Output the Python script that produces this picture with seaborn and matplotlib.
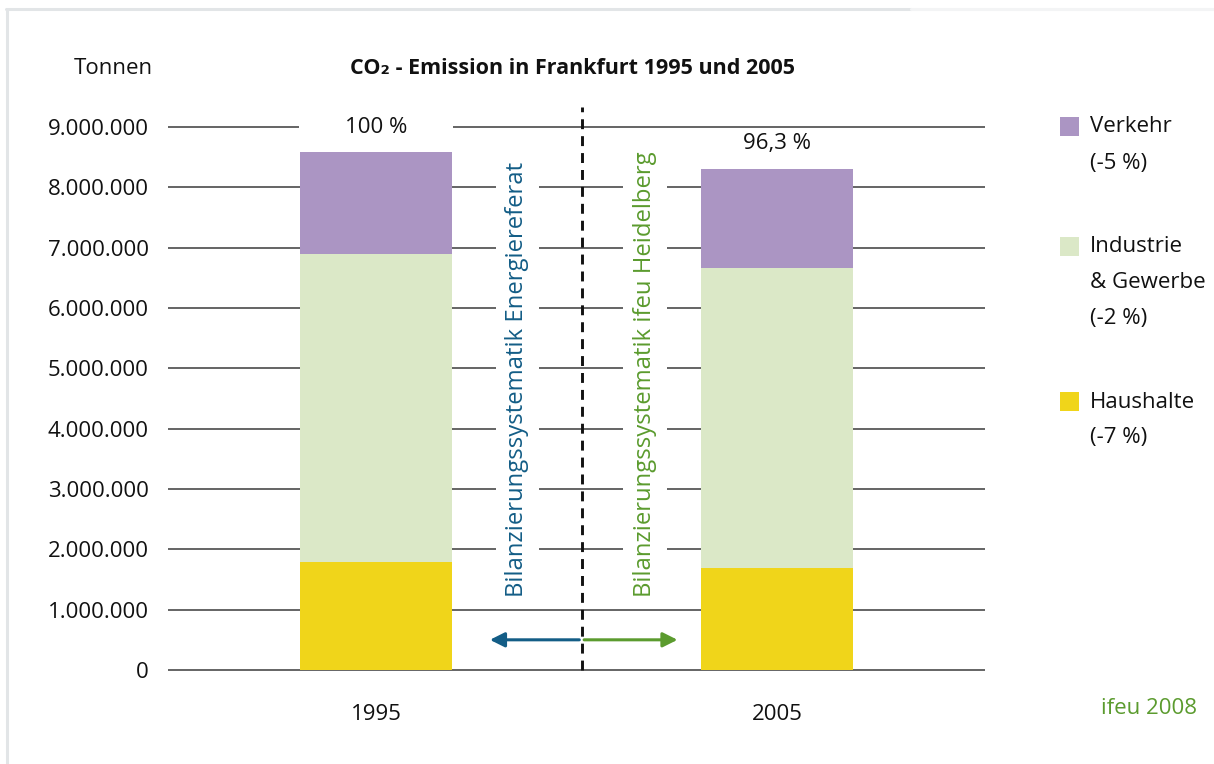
import pandas as pd
import seaborn as sns
import matplotlib.pyplot as plt
from matplotlib.patches import Rectangle
from matplotlib.lines import Line2D

# Data (tonnes CO2)
years = ['1995', '2005']
haushalte = [1790000, 1690000]
industrie = [5100000, 4970000]
verkehr = [1700000, 1640000]
share_labels = ['100 %', '96,3 %']

legend_names = ['Verkehr', 'Industrie\n& Gewerbe', 'Haushalte']
legend_changes = ['(-5 %)', '(-2 %)', '(-7 %)']
y_ticks = [0, 1000000, 2000000, 3000000, 4000000, 5000000,
           6000000, 7000000, 8000000, 9000000]

purple = '#ab95c3'
light_green = '#dbe8c7'
yellow = '#f0d51a'
blue = '#135d86'
green = '#5b9b2e'

sns.set_style('white')
plt.rcParams['font.family'] = ['Open Sans', 'DejaVu Sans']

df = pd.DataFrame({'Jahr': years, 'Haushalte': haushalte,
                   'Industrie': industrie, 'Verkehr': verkehr})
df['h_top'] = df['Haushalte']
df['i_top'] = df['Haushalte'] + df['Industrie']
df['v_top'] = df['i_top'] + df['Verkehr']

fig = plt.figure(figsize=(12.14, 7.64), dpi=100)
ax = fig.add_axes([168 / 1214, 1 - 673 / 764, 817 / 1214, 549 / 764])

# stacked bars: draw cumulative totals from top layer to bottom layer
bar_w = 0.379
for col, c in [('v_top', purple), ('i_top', light_green), ('h_top', yellow)]:
    sns.barplot(data=df, x='Jahr', y=col, color=c, saturation=1,
                width=bar_w, errorbar=None, ax=ax, zorder=1, linewidth=0)

ax.set_xlim(-0.519, 1.519)
ax.set_ylim(-50000, 9050000)
ax.set_axisbelow(True)
ax.yaxis.grid(True, color='#3a3a3a', lw=1.1)
ax.xaxis.grid(False)
for s in ax.spines.values():
    s.set_visible(False)
ax.set_yticks(y_ticks)
ax.set_yticklabels([f'{v:,.0f}'.replace(',', '.') for v in y_ticks])
ax.tick_params(axis='y', length=0, pad=14, labelsize=16, labelcolor='#111111')
ax.tick_params(axis='x', length=0, pad=22, labelsize=16, labelcolor='#111111')
ax.set_xlabel('')
ax.set_ylabel('')

# share labels above the bars
totals = df['v_top'].tolist()
ax.text(0, 9000000, share_labels[0], ha='center', va='center', fontsize=16,
        color='#111111', zorder=0.8,
        bbox=dict(boxstyle='square,pad=2.05', fc='white', ec='none'))
ax.annotate(share_labels[1], xy=(1, totals[1]), xytext=(0, 11),
            textcoords='offset points', ha='center', va='bottom',
            fontsize=16, color='#111111')

# separator between the two accounting systems
sep_x = 0.513
ax.plot([sep_x, sep_x], [0, 9330000], color='#111111', lw=2.1,
        dashes=(3.4, 2.4), clip_on=False, zorder=4)
ax.text(0.352, 1210000, 'Bilanzierungssystematik Energiereferat',
        rotation=90, ha='center', va='bottom', fontsize=17.2, color=blue,
        zorder=3, bbox=dict(boxstyle='square,pad=0.4', fc='white', ec='none'))
ax.text(0.671, 1210000, 'Bilanzierungssystematik ifeu Heidelberg',
        rotation=90, ha='center', va='bottom', fontsize=17.2, color=green,
        zorder=3, bbox=dict(boxstyle='square,pad=0.4', fc='white', ec='none'))
ax.annotate('', xy=(0.284, 500000), xytext=(sep_x - 0.006, 500000),
            arrowprops=dict(arrowstyle='-|>', color=blue, lw=2.2,
                            mutation_scale=22, shrinkA=0, shrinkB=0))
ax.annotate('', xy=(0.752, 500000), xytext=(sep_x + 0.006, 500000),
            arrowprops=dict(arrowstyle='-|>', color=green, lw=2.2,
                            mutation_scale=22, shrinkA=0, shrinkB=0))

# titles
fig.text(153 / 1214, 1 - 68 / 764, 'Tonnen', ha='right', va='center',
         fontsize=16, color='#111111')
fig.text(573 / 1214, 1 - 68 / 764, 'CO₂ - Emission in Frankfurt 1995 und 2005',
         ha='center', va='center', fontsize=15.5, fontweight='bold',
         color='#111111')

# legend drawn by hand
legend_colors = [purple, light_green, yellow]
legend_y = [127, 247, 402]
for name, chg, c, y in zip(legend_names, legend_changes, legend_colors, legend_y):
    fig.patches.append(Rectangle((1060 / 1214, 1 - (y + 9) / 764), 19 / 1214, 19 / 764,
                                 transform=fig.transFigure, fc=c, ec='none'))
    lines = name.split('\n') + [chg]
    for i, ln in enumerate(lines):
        fig.text(1090 / 1214, 1 - (y + i * 36) / 764, ln, ha='left', va='center',
                 fontsize=16, color='#111111')

fig.text(1197 / 1214, 1 - 708 / 764, 'ifeu 2008', ha='right', va='center',
         fontsize=16, color=green)

# light frame at top and left (top edge fades out towards the right)
fig.add_artist(Line2D([6 / 1214, 0.75], [1 - 9 / 764, 1 - 9 / 764],
                      transform=fig.transFigure, color='#e2e5e7', lw=2.2))
fig.add_artist(Line2D([0.75, 1], [1 - 9 / 764, 1 - 9 / 764],
                      transform=fig.transFigure, color='#f3f4f5', lw=2.2))
fig.add_artist(Line2D([7 / 1214, 7 / 1214], [0, 1 - 9 / 764],
                      transform=fig.transFigure, color='#e2e5e7', lw=2.2))

fig.savefig('out.png', dpi=100, facecolor='white')
